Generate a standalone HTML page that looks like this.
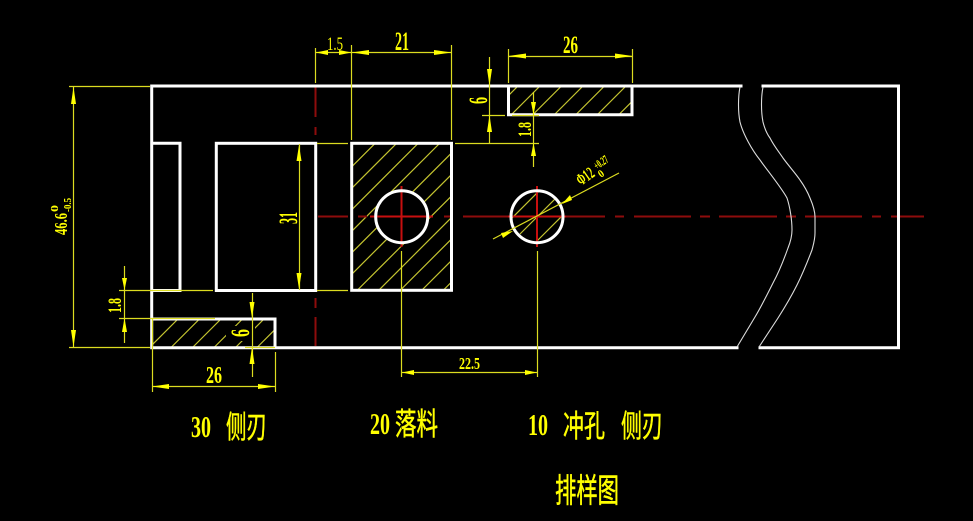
<!DOCTYPE html>
<html>
<head>
<meta charset="utf-8">
<style>
html,body{margin:0;padding:0;background:#000;width:973px;height:521px;overflow:hidden}
svg{display:block}
text{fill:#ff0;font-family:"Liberation Serif","Noto Sans CJK SC",serif}
.c{font-family:"Liberation Sans","Noto Sans CJK SC",sans-serif;stroke:#ff0;stroke-width:.5}
</style>
</head>
<body>
<svg width="973" height="521" viewBox="0 0 973 521" xmlns="http://www.w3.org/2000/svg">
<defs>
<clipPath id="h1"><path clip-rule="evenodd" d="M351 143H452V290H351ZM375.500 216.500a26 26 0 1 0 52 0a26 26 0 1 0 -52 0Z"/></clipPath>
<clipPath id="h2"><rect x="509" y="86" width="124" height="29"/></clipPath>
<clipPath id="h3"><rect x="152" y="318" width="123" height="30"/></clipPath>
<clipPath id="h4"><circle cx="537" cy="216.500" r="26"/></clipPath>
</defs>
<rect width="973" height="521" fill="#000"/>

<!-- hatching -->
<g stroke="#c4c430" stroke-width="1.200" fill="none">
<path clip-path="url(#h1)" d="M354 143L207 290M375.500 143L228.500 290M397 143L250 290M418.500 143L271.500 290M440 143L293 290M461.500 143L314.500 290M483 143L336 290M504.500 143L357.500 290M526 143L379 290M547.500 143L400.500 290M569 143L422 290M590.500 143L443.500 290"/>
<path clip-path="url(#h2)" d="M518 86L489 115M540 86L511 115M561.500 86L532.500 115M583 86L554 115M604.500 86L575.500 115M626 86L597 115M647.500 86L618.500 115M669 86L640 115"/>
<path clip-path="url(#h3)" d="M179 318L150 347M200.500 318L171.500 347M222 318L193 347M243.500 318L214.500 347M265 318L236 347M286.500 318L257.500 347M308 318L279 347M329.500 318L300.500 347"/>
<path clip-path="url(#h4)" d="M560 170L510 220M568 186L520 234M573 205L537 241"/>
</g>
<rect x="226" y="326" width="29" height="15" fill="#000"/>

<!-- centre lines -->
<g stroke="#8e0c0c" stroke-width="2" fill="none">
<path d="M318 216.500H348M358 216.500H367M444 216.500H453M463 216.500H508M566 216.500H605M615 216.500H624M634 216.500H691M700 216.500H710M719 216.500H777M786 216.500H796M805 216.500H862M872 216.500H881M891 216.500H924"/>
<path d="M315.500 87V117M315.500 127V135M315.500 298V308M315.500 317V346"/>
</g>
<g stroke="#c80f0f" stroke-width="2" fill="none">
<path d="M370 216.500H433M401.500 186V247M508 216.500H566M537 186V247"/>
</g>

<!-- white outline -->
<g stroke="#fff" stroke-width="3" fill="none" stroke-linejoin="miter" stroke-linecap="square">
<path d="M741 86H151.700V347.700H737"/>
<path d="M763 86H898.500V347.700H760"/>
<path d="M152 143.300H180V290.500H152"/>
<rect x="216.300" y="143.300" width="99.400" height="147.200"/>
<rect x="351.700" y="143.300" width="99.800" height="147"/>
<path d="M508.500 86V114.700H632V86"/>
<path d="M152 319H275V347"/>
<circle cx="401.700" cy="216.700" r="26"/>
<circle cx="537" cy="216.700" r="26"/>
</g>
<g stroke="#ddd" stroke-width="1.100" fill="none">
<path d="M740 87C738 97 738 112 740 122C743 134 752 150 760 160C767 170 781 187 787 198C790 207 792 220 792 230C792 237 790 243 788 248C783 262 779 272 773 283C767 295 761 307 755 317L737 347"/>
<path d="M763 87C761 97 761 112 763 122C765 130 767 134 770 138C774 146 779 152 783 158C788 165 796 174 800 180C805 187 808 193 810 198C813 205 815 211 815 217V233C815 240 813 246 812 250C807 263 802 275 797 285C791 297 785 307 778 318L759 347"/>
</g>

<!-- dimension lines -->
<g stroke="#dcdc20" stroke-width="1.200" fill="none">
<path d="M315.500 48V83M351.500 45V140M451.500 45V140M315 52.500H452"/>
<path d="M508.500 49V83M632.500 49V83M509 56.500H632"/>
<path d="M489.500 57V143M482 115.500H505M455 143.500H539M317 143.500H348M533.500 92V167M512 115.500H539"/>
<path d="M69 86.500H150M69 347.500H150M73.500 87V347"/>
<path d="M124.500 266V343M119 290.500H213M119 318.500H215M299.500 144V290M317 290.500H348"/>
<path d="M252.500 293V377M245 347.500H275M152.500 318V392M275.500 352V392M152 386.500H275"/>
<path d="M401.500 251V377M537.500 251V377M402 372.500H537"/>
<path d="M493 239L619 173"/>
</g>

<!-- arrowheads -->
<g fill="#ff0">
<polygon points="315.700,52.500 328,50 328,55"/>
<polygon points="351.500,52.500 339,50 339,55"/>
<polygon points="351.700,52.500 369,50 369,55"/>
<polygon points="451.700,52.500 434,50 434,55"/>
<polygon points="508.500,56 526,53.500 526,58.500"/>
<polygon points="632.500,56 615,53.500 615,58.500"/>
<polygon points="489.500,86 487,69 492,69"/>
<polygon points="489.500,115 487,132 492,132"/>
<polygon points="533.500,115 531,102 536,102"/>
<polygon points="533.500,143 531,156 536,156"/>
<polygon points="73.500,87 71,104 76,104"/>
<polygon points="73.500,347 71,330 76,330"/>
<polygon points="124.500,290 122,278 127,278"/>
<polygon points="124.500,318 122,332 127,332"/>
<polygon points="299,145 296.500,161 301.500,161"/>
<polygon points="299,289 296.500,273 301.500,273"/>
<polygon points="252,318 249.500,302 254.500,302"/>
<polygon points="252,347 249.500,364 254.500,364"/>
<polygon points="152,386.500 169,384 169,389"/>
<polygon points="275,386.500 258,384 258,389"/>
<polygon points="402,372.500 414,370 414,375"/>
<polygon points="537,372.500 525,370 525,375"/>
<polygon points="513,231 501,233 503,238"/>
<polygon points="562,204 570,195 572,200"/>
</g>

<!-- dimension text -->
<text x="327" y="50" font-size="19" textLength="16" lengthAdjust="spacingAndGlyphs">1.5</text>
<text x="395" y="50" font-size="26" font-weight="bold" textLength="14" lengthAdjust="spacingAndGlyphs">21</text>
<text x="563" y="53" font-size="25" font-weight="bold" textLength="15" lengthAdjust="spacingAndGlyphs">26</text>
<text transform="translate(487 104) rotate(-90)" font-size="26" font-weight="bold" textLength="7" lengthAdjust="spacingAndGlyphs">6</text>
<text transform="translate(531 137) rotate(-90)" font-size="19" font-weight="bold" textLength="15" lengthAdjust="spacingAndGlyphs">1.8</text>
<text transform="translate(297 224) rotate(-90)" font-size="26" font-weight="bold" textLength="12" lengthAdjust="spacingAndGlyphs">31</text>
<text transform="translate(121 313) rotate(-90)" font-size="19" font-weight="bold" textLength="15" lengthAdjust="spacingAndGlyphs">1.8</text>
<text transform="translate(249 337) rotate(-90)" font-size="26" font-weight="bold" textLength="8" lengthAdjust="spacingAndGlyphs">6</text>
<text x="206" y="383" font-size="24" font-weight="bold" textLength="16" lengthAdjust="spacingAndGlyphs">26</text>
<text x="459" y="369" font-size="17" font-weight="bold" textLength="21" lengthAdjust="spacingAndGlyphs">22.5</text>
<text transform="translate(67 235) rotate(-90)" font-size="18" font-weight="bold" textLength="22" lengthAdjust="spacingAndGlyphs">46.6</text>
<text transform="translate(58 212) rotate(-90)" font-size="10" font-weight="bold" textLength="7" lengthAdjust="spacingAndGlyphs">0</text>
<text transform="translate(71 212) rotate(-90)" font-size="10" font-weight="bold" textLength="14" lengthAdjust="spacingAndGlyphs">-0.5</text>
<text transform="translate(581 186) rotate(-35)" font-size="17" font-weight="bold" textLength="18" lengthAdjust="spacingAndGlyphs">Φ12</text>
<text transform="translate(597 170) rotate(-35)" font-size="12" font-weight="bold" textLength="15" lengthAdjust="spacingAndGlyphs">+0.27</text>
<text transform="translate(601 178) rotate(-35)" font-size="11" font-weight="bold" textLength="5" lengthAdjust="spacingAndGlyphs">0</text>

<!-- captions -->
<text x="191" y="437" font-size="31" font-weight="bold" textLength="20" lengthAdjust="spacingAndGlyphs">30</text>
<text class="c" x="226" y="438" font-size="31" textLength="41" lengthAdjust="spacingAndGlyphs">侧刃</text>
<text x="370" y="434" font-size="31" font-weight="bold" textLength="20" lengthAdjust="spacingAndGlyphs">20</text>
<text class="c" x="395" y="435" font-size="31" textLength="43" lengthAdjust="spacingAndGlyphs">落料</text>
<text x="528" y="435" font-size="31" font-weight="bold" textLength="20" lengthAdjust="spacingAndGlyphs">10</text>
<text class="c" x="563" y="437" font-size="31" textLength="42" lengthAdjust="spacingAndGlyphs">冲孔</text>
<text class="c" x="621" y="437" font-size="31" textLength="42" lengthAdjust="spacingAndGlyphs">侧刃</text>
<text class="c" x="555" y="502" font-size="33" textLength="64" lengthAdjust="spacingAndGlyphs">排样图</text>
</svg>
</body>
</html>
